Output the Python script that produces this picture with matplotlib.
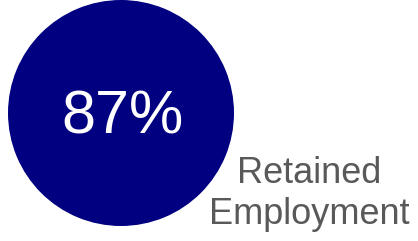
import matplotlib
matplotlib.use('Agg')
import matplotlib.pyplot as plt

# data
share = [87]
label_lines = ["Retained", "Employment"]

W, H = 418, 241

fig = plt.figure(figsize=(W / 100, H / 100), dpi=100)
ax = fig.add_axes([0, 0, 1, 1])

# full circle, one slice
ax.pie([1], colors=['#000080'], radius=113, center=(121, H - 113),
	   startangle=90, wedgeprops=dict(linewidth=0))

ax.text(123, H - 133, f"{share[0]}%", color='white', fontsize=44,
		family='Liberation Sans', ha='center', va='baseline')

baselines = [183, 224]
for line, yb in zip(label_lines, baselines):
	ax.text(309, H - yb, line, color='#595959', fontsize=26,
			family='Liberation Sans', ha='center', va='baseline')

ax.set_xlim(0, W)
ax.set_ylim(0, H)
ax.set_aspect('equal')
ax.axis('off')

plt.savefig("out.png", dpi=100)
plt.close()
